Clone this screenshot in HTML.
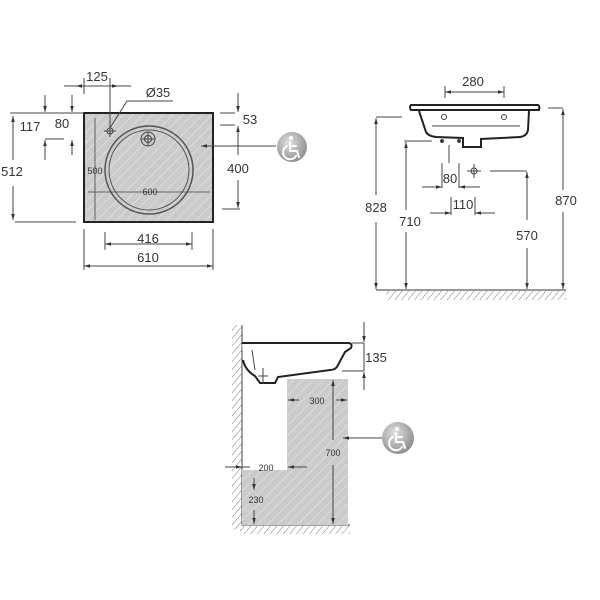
<!DOCTYPE html>
<html><head><meta charset="utf-8"><style>html,body{margin:0;padding:0;background:#fff}svg{display:block}text{font-family:"Liberation Sans",sans-serif;fill:#333}</style></head>
<body>
<svg width="600" height="600" viewBox="0 0 600 600" xmlns="http://www.w3.org/2000/svg">
<defs>
<pattern id="h" width="7" height="7" patternUnits="userSpaceOnUse" patternTransform="rotate(45)">
<rect width="7" height="7" fill="#cbcbcb"/><line x1="0" y1="0" x2="0" y2="7" stroke="#ececec" stroke-width="1"/></pattern>
<pattern id="fh" width="5" height="5" patternUnits="userSpaceOnUse" patternTransform="rotate(40)">
<line x1="0" y1="0" x2="0" y2="5" stroke="#777" stroke-width="1"/></pattern>
<marker id="a" viewBox="0 0 10 10" refX="10" refY="5" markerWidth="6" markerHeight="6" orient="auto-start-reverse"><path d="M0,2 L10,5 L0,8z" fill="#333"/></marker>
<radialGradient id="g" cx="40%" cy="35%" r="70%"><stop offset="0" stop-color="#e0e0e0"/><stop offset="1" stop-color="#8a8a8a"/></radialGradient>
<g id="wc" fill="none" stroke="#fff" stroke-width="2" stroke-linecap="round">
<circle cx="-1" cy="-10" r="2" fill="#fff" stroke="none"/>
<path d="M-2,-6 V3 H5 L7,9"/>
<path d="M-2,-2 H4"/>
<path d="M-5,-2 A7,7 0 1 0 4,8"/>
</g>
</defs>
<g stroke="#444" stroke-width="1" fill="none">
<rect x="84" y="113" width="129" height="109" fill="url(#h)" stroke="#222" stroke-width="2"/>
<circle cx="149" cy="170" r="44" stroke="#555" stroke-width="1.5"/>
<circle cx="149" cy="170" r="40" stroke="#555"/>
<circle cx="148" cy="139" r="7"/><circle cx="148" cy="139" r="3.5"/>
<path d="M141,139h14M148,132v14"/>
<circle cx="110" cy="131" r="3"/><path d="M104,131h12M110,125v12"/>
<path d="M110,128 L127,101 H173"/>
<path d="M64,86H131" /><path d="M84,78v16M110,78v55"/>
<path d="M84,86H76" marker-end="url(#a)"/>
<path d="M110,86H118" marker-end="url(#a)"/>
<path d="M10,113H84M45,139H64M15,222H76"/>
<path d="M13,160V116" marker-end="url(#a)"/><path d="M13,186V220" marker-end="url(#a)"/>
<path d="M45,95V112" marker-end="url(#a)"/><path d="M45,155V140" marker-end="url(#a)"/><path d="M45,140V160"/>
<path d="M72,95V112" marker-end="url(#a)"/><path d="M72,155V140" marker-end="url(#a)"/>
<path d="M220,113H235M220,125H235M222,209H240"/>
<path d="M238,93V112" marker-end="url(#a)"/><path d="M238,145V126" marker-end="url(#a)"/>
<path d="M238,180V208" marker-end="url(#a)"/><path d="M238,145V155"/>
<path d="M276,146H201" marker-end="url(#a)"/>
<path d="M95,118V220" stroke-width="0.8"/><path d="M88,192H210" stroke-width="0.8"/>
<path d="M105,232V250M192,232V250M84,229V270M213,229V270"/>
<path d="M105,244H192" marker-start="url(#a)" marker-end="url(#a)"/>
<path d="M84,266H213" marker-start="url(#a)" marker-end="url(#a)"/>
<path d="M411,105H538Q540,106 539,110H411Q409,107 411,105Z" stroke="#222" stroke-width="2" fill="#fff"/>
<path d="M419,111 L426,132 Q428,136 436,137 L463,138 V147 H481 V139 L520,137 Q527,136 528,130 L529,111" stroke="#222" stroke-width="2"/>
<path d="M432,126H520" stroke-width="1"/>
<circle cx="444" cy="117" r="2.5"/><circle cx="504" cy="117" r="2.5"/>
<path d="M445,92H504" marker-start="url(#a)" marker-end="url(#a)"/><path d="M445,86v12M504,86v12"/>
<path d="M376,117H402M404,141H432M548,108H563M490,171H527"/>
<path d="M376,195V118" marker-end="url(#a)"/><path d="M376,222V289" marker-end="url(#a)"/>
<path d="M406,210V142" marker-end="url(#a)"/><path d="M406,232V289" marker-end="url(#a)"/>
<path d="M563,190V109" marker-end="url(#a)"/><path d="M563,212V289" marker-end="url(#a)"/>
<path d="M527,220V172" marker-end="url(#a)"/><path d="M527,248V289" marker-end="url(#a)"/>
<circle cx="474" cy="171" r="3"/><path d="M467,171h14M474,164v14"/>
<circle cx="442" cy="141" r="1.5" fill="#333"/><circle cx="459" cy="141" r="1.5" fill="#333"/>
<path d="M449,145V163M442,163V188M459,163V188M451,197V215M475,197V215"/>
<path d="M422,187H442" marker-end="url(#a)"/><path d="M480,187H459" marker-end="url(#a)"/>
<path d="M430,213H451" marker-end="url(#a)"/><path d="M495,213H475" marker-end="url(#a)"/>
<path d="M376,290H566" stroke="#333"/>
<rect x="386" y="291" width="180" height="9" fill="url(#fh)" stroke="none"/>
<rect x="232" y="325" width="10" height="205" fill="url(#fh)" stroke="none"/>
<path d="M242,325V525H350"/>
<rect x="240" y="526" width="110" height="8" fill="url(#fh)" stroke="none"/>
<path d="M287,379H348V525H242V470H287Z" fill="url(#h)" stroke="none"/>
<path d="M242,343H348Q353,343 351,348 L345,352 L338,365 Q336,370 330,370 L278,377 L275,383 H260 L255,376 Q245,370 243,360" stroke="#222" stroke-width="2" fill="#fff"/>
<path d="M252,350 L255,370 M263,368v16M258,376h10"/>
<path d="M352,343H364M342,371H364"/>
<path d="M364,322V342" marker-end="url(#a)"/><path d="M364,390V372" marker-end="url(#a)"/><path d="M364,343V371"/>
<path d="M299,400H288" marker-end="url(#a)"/><path d="M336,400H347" marker-end="url(#a)"/>
<path d="M333,440V380" marker-end="url(#a)"/><path d="M333,465V524" marker-end="url(#a)"/>
<path d="M225,467H242" marker-end="url(#a)"/><path d="M250,467H242"/><path d="M307,467H288" marker-end="url(#a)"/>
<path d="M254,478V490" marker-end="url(#a)"/><path d="M254,510V524" marker-end="url(#a)"/>
<path d="M382,438H343" marker-end="url(#a)"/>
</g>
<circle cx="292" cy="147" r="15" fill="url(#g)"/>
<circle cx="398" cy="438" r="16" fill="url(#g)"/>
<use href="#wc" x="292" y="148"/>
<use href="#wc" x="398" y="439"/>
<g font-size="13" text-anchor="middle">
<text x="97" y="81">125</text><text x="158" y="97">Ø35</text>
<text x="30" y="131">117</text><text x="62" y="128">80</text>
<text x="12" y="176">512</text><text x="250" y="124">53</text>
<text x="238" y="173">400</text>
<text x="148" y="243">416</text><text x="148" y="262">610</text>
<text x="473" y="86">280</text><text x="376" y="212">828</text>
<text x="410" y="226">710</text><text x="566" y="205">870</text>
<text x="527" y="240">570</text><text x="450" y="183">80</text><text x="463" y="209">110</text>
<text x="376" y="362">135</text>
</g>
<g font-size="9" text-anchor="middle">
<text x="95" y="174">500</text><text x="150" y="195">600</text>
<text x="317" y="404">300</text><text x="333" y="456">700</text>
<text x="266" y="471">200</text><text x="256" y="503">230</text>
</g>
</svg>
</body></html>
